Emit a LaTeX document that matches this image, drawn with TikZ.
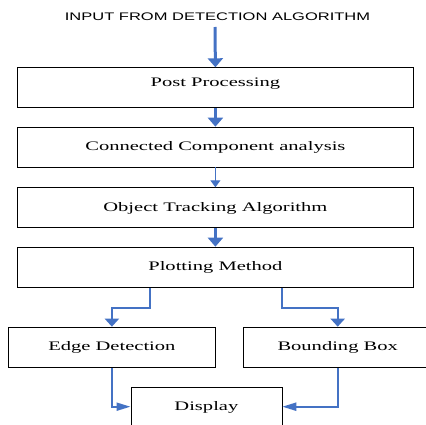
\documentclass[tikz,border=0pt]{standalone}
\usepackage{fontspec}
\usetikzlibrary{arrows.meta}
\newfontfamily\boxfont[FakeStretch=1.58]{Liberation Serif}
\newfontfamily\titlefont[FakeStretch=1.5]{Liberation Sans}
\definecolor{arrblue}{RGB}{68,114,196}
\tikzset{
  box/.style={draw=black, line width=0.8pt, inner sep=0pt, anchor=north west,
    font=\boxfont\fontsize{13}{15}\selectfont, text height=23.5pt, text depth=16.5pt},
  arrthick/.style={draw=arrblue, line width=3pt, -{Triangle[length=9pt,width=15pt]}},
  arrthin/.style={draw=arrblue, line width=1pt, -{Triangle[length=7pt,width=10pt]}},
  arrmid/.style={draw=arrblue, line width=2pt, -{Triangle[length=8pt,width=14pt]}},
  arrside/.style={draw=arrblue, line width=2pt, -{Triangle[length=14pt,width=8pt]}}
}
\begin{document}
\begin{tikzpicture}[x=1pt,y=-1pt]
\useasboundingbox (0,0) rectangle (426,425);
\begin{scope}
\clip (0,0) rectangle (426,425);
\node[font=\titlefont\fontsize{11}{13}\selectfont, anchor=base, inner sep=0pt] (title) at (217.5,20.3) {INPUT FROM DETECTION ALGORITHM};
\coordinate (start) at (215,27);

\node[box, minimum width=395.4pt, text height=18.5pt, text depth=21.5pt] (pp) at (17.3,67.3) {Post Processing};
\node[box, minimum width=395.4pt] (cc) at (17.3,126.7) {Connected Component analysis};
\node[box, minimum width=395.4pt] (ot) at (17.3,187.3) {Object Tracking Algorithm};
\node[box, minimum width=395.4pt] (pm) at (17.3,246.7) {Plotting Method};
\node[box, minimum width=207pt, text depth=17pt] (ed) at (8,326.7) {Edge Detection};
\node[box, minimum width=188pt, text depth=17pt] (bb) at (243.3,326.7) {Bounding Box};
\node[box, minimum width=151pt, text depth=36.5pt] (dp) at (130.5,386.7) {Display};

\draw[arrthick] (start) -- (pp.north);
\draw[arrthick] (pp.south) -- (cc.north);
\draw[arrthin] (cc.south) -- (ot.north);
\draw[arrthick] (ot.south) -- (pm.north);

\draw[arrmid] ([xshift=132.4pt]pm.south west) -- ++(0,20) -| (ed.north);
\draw[arrmid] ([xshift=-131.7pt]pm.south east) -- ++(0,20) -| (bb.north);

\draw[arrside] (ed.south) |- ([yshift=-20pt]dp.north west);
\draw[arrside] (bb.south) |- ([yshift=-20pt]dp.north east);
\end{scope}
\end{tikzpicture}
\end{document}
